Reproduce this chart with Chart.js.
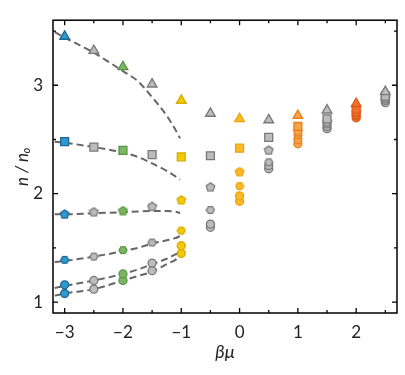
<!DOCTYPE html>
<html lang="en">
<head>
<meta charset="UTF-8" />
<title>n/n0 vs beta mu</title>
<script src="https://cdn.jsdelivr.net/npm/chart.js"></script>
<style>
  body { margin: 0; background: #fff; }
  .wrap { width: 405px; height: 375px; }
</style>
</head>
<body>
<div class="wrap"><canvas id="chart" width="405" height="375"></canvas></div>
<script>
// measured points (beta*mu on x)
const betaMu = [-3, -2.5, -2, -1.5, -1, -0.5, 0, 0.5, 1, 1.5, 2, 2.5];
const triVals  = [3.45, 3.32, 3.17, 3.01, 2.86, 2.74, 2.69, 2.68, 2.72, 2.77, 2.83, 2.94];
const sqVals   = [2.48, 2.43, 2.40, 2.36, 2.34, 2.35, 2.42, 2.52, 2.62, 2.69, 2.78, 2.90];
const pentVals = [1.81, 1.83, 1.84, 1.88, 1.94, 2.06, 2.20, 2.40, 2.57, 2.66, 2.75, 2.88];
const hexVals  = [1.39, 1.42, 1.48, 1.55, 1.66, 1.85, 2.07, 2.29, 2.54, 2.64, 2.73, 2.87];
const circAVals = [1.16, 1.20, 1.26, 1.36, 1.52, 1.72, 1.98, 2.26, 2.50, 2.62, 2.72, 2.86];
const circBVals = [1.08, 1.12, 1.20, 1.29, 1.45, 1.69, 1.93, 2.23, 2.46, 2.60, 2.70, 2.84];

// dashed theory curves
const curveX = [-3.17, -3, -2.5, -2, -1.75, -1.5, -1.25, -1.1, -1.02];
const triCurve  = [3.49, 3.44, 3.30, 3.13, 3.04, 2.89, 2.72, 2.59, 2.51];
const sqCurve   = [2.48, 2.47, 2.43, 2.38, 2.34, 2.28, 2.21, 2.16, 2.13];
const pentCurve = [1.81, 1.81, 1.82, 1.83, 1.835, 1.84, 1.84, 1.835, 1.82];
const hexCurve  = [1.37, 1.38, 1.42, 1.47, 1.50, 1.54, 1.57, 1.59, 1.61];
const circACurve = [1.13, 1.15, 1.20, 1.26, 1.30, 1.35, 1.40, 1.44, 1.46];
const circBCurve = [1.06, 1.08, 1.12, 1.20, 1.24, 1.28, 1.35, 1.39, 1.42];

const xTicks = [-3, -2, -1, 0, 1, 2];
const xMinor = [-2.5, -1.5, -0.5, 0.5, 1.5, 2.5];
const yTicks = [1, 2, 3];
const yMinor = [1.5, 2.5, 3.5];

// colour per integer beta*mu, grey otherwise
const palette = {
  '-3': ['#2c9ad0', '#1d6690'],
  '-2': ['#7cb662', '#5a9442'],
  '-1': ['#f4ca06', '#d8aa00'],
  '0':  ['#f8bb2a', '#f0a106'],
  '1':  ['#f5a24a', '#e8801a'],
  '2':  ['#ef7232', '#de5a16'],
  'grey': ['#bcbcbc', '#787878']
};
function colorsFor(x) {
  return palette[String(x)] || palette.grey;
}

const polyCache = {};
function polygonImage(sides, size, fill, stroke) {
  const key = sides + fill + size;
  if (polyCache[key]) return polyCache[key];
  const c = document.createElement('canvas');
  c.width = size; c.height = size;
  const g = c.getContext('2d');
  const r = size / 2 - 1;
  g.beginPath();
  for (let i = 0; i < sides; i++) {
    const a = -Math.PI / 2 + i * 2 * Math.PI / sides + (sides === 6 ? Math.PI / 6 : 0);
    const px = size / 2 + r * Math.cos(a), py = size / 2 + r * Math.sin(a);
    i ? g.lineTo(px, py) : g.moveTo(px, py);
  }
  g.closePath();
  g.fillStyle = fill; g.fill();
  g.lineWidth = 1.3; g.strokeStyle = stroke; g.stroke();
  polyCache[key] = c;
  return c;
}

function pts(xs, ys) { return xs.map((x, i) => ({ x: x, y: ys[i] })); }

function markerSet(vals, style, radius) {
  return {
    data: pts(betaMu, vals),
    order: 0,
    pointStyle: style,
    pointRadius: radius,
    pointHoverRadius: radius,
    pointBorderWidth: 1.3,
    pointBackgroundColor: ctx => colorsFor(ctx.raw ? ctx.raw.x : 0)[0],
    pointBorderColor: ctx => colorsFor(ctx.raw ? ctx.raw.x : 0)[1]
  };
}
function polySet(vals, sides, size) {
  return {
    data: pts(betaMu, vals),
    order: 0,
    pointStyle: ctx => {
      const c = colorsFor(ctx.raw ? ctx.raw.x : 0);
      return polygonImage(sides, size, c[0], c[1]);
    },
    pointRadius: size / 2,
    pointHoverRadius: size / 2
  };
}
function curveSet(ys) {
  return {
    data: pts(curveX, ys),
    order: 10,
    showLine: true,
    pointRadius: 0,
    borderColor: '#666666',
    borderWidth: 2,
    borderDash: [7, 4],
    cubicInterpolationMode: 'monotone'
  };
}

// frame and inward ticks on all four sides
const frameTicks = {
  id: 'frameTicks',
  afterDraw(chart) {
    const { ctx, chartArea: a, scales: { x, y } } = chart;
    ctx.save();
    ctx.strokeStyle = '#000';
    ctx.lineWidth = 1.5;
    ctx.strokeRect(a.left, a.top, a.right - a.left, a.bottom - a.top);
    ctx.lineWidth = 1.3;
    ctx.beginPath();
    const xt = (v, len) => {
      const px = x.getPixelForValue(v);
      ctx.moveTo(px, a.bottom); ctx.lineTo(px, a.bottom - len);
      ctx.moveTo(px, a.top); ctx.lineTo(px, a.top + len);
    };
    const yt = (v, len) => {
      const py = y.getPixelForValue(v);
      ctx.moveTo(a.left, py); ctx.lineTo(a.left + len, py);
      ctx.moveTo(a.right, py); ctx.lineTo(a.right - len, py);
    };
    xTicks.forEach(v => xt(v, 5));
    xMinor.forEach(v => xt(v, 3));
    yTicks.forEach(v => yt(v, 5));
    yMinor.forEach(v => yt(v, 3));
    ctx.stroke();
    ctx.restore();
  }
};

const fontFam = "Lato, 'DejaVu Sans', sans-serif";

new Chart(document.getElementById('chart'), {
  type: 'scatter',
  data: {
    datasets: [
      markerSet(triVals, 'triangle', 5.6),
      markerSet(sqVals, 'rect', 5.6),
      polySet(pentVals, 5, 11),
      polySet(hexVals, 6, 10),
      markerSet(circAVals, 'circle', 4),
      markerSet(circBVals, 'circle', 4),
      curveSet(triCurve),
      curveSet(sqCurve),
      curveSet(pentCurve),
      curveSet(hexCurve),
      curveSet(circACurve),
      curveSet(circBCurve)
    ]
  },
  options: {
    responsive: false,
    animation: false,
    layout: { padding: { top: 10, right: 8, left: 0, bottom: 0 } },
    plugins: { legend: { display: false }, tooltip: { enabled: false } },
    scales: {
      x: {
        type: 'linear',
        min: -3.2,
        max: 2.7,
        afterBuildTicks: s => { s.ticks = xTicks.map(v => ({ value: v })); },
        afterFit: s => { s.height = 62; },
        grid: { display: false, drawTicks: false },
        border: { display: false },
        ticks: {
          color: '#222',
          padding: 9,
          font: { family: fontFam, size: 17 },
          callback: v => (v < 0 ? '\u2212' + Math.abs(v) : String(v))
        },
        title: {
          display: true,
          text: '\u03b2\u03bc',
          color: '#222',
          font: { family: fontFam, size: 18, style: 'italic' },
          padding: { top: 0, bottom: 12 }
        }
      },
      y: {
        type: 'linear',
        min: 0.9,
        max: 3.6,
        afterBuildTicks: s => { s.ticks = yTicks.map(v => ({ value: v })); },
        afterFit: s => { s.width = 53; },
        grid: { display: false, drawTicks: false },
        border: { display: false },
        ticks: {
          color: '#222',
          padding: 10,
          font: { family: fontFam, size: 17 }
        },
        title: {
          display: true,
          text: 'n / n\u2080',
          color: '#222',
          font: { family: fontFam, size: 17, style: 'italic' },
          padding: { top: 12, bottom: 0 }
        }
      }
    }
  },
  plugins: [frameTicks]
});
</script>
</body>
</html>
